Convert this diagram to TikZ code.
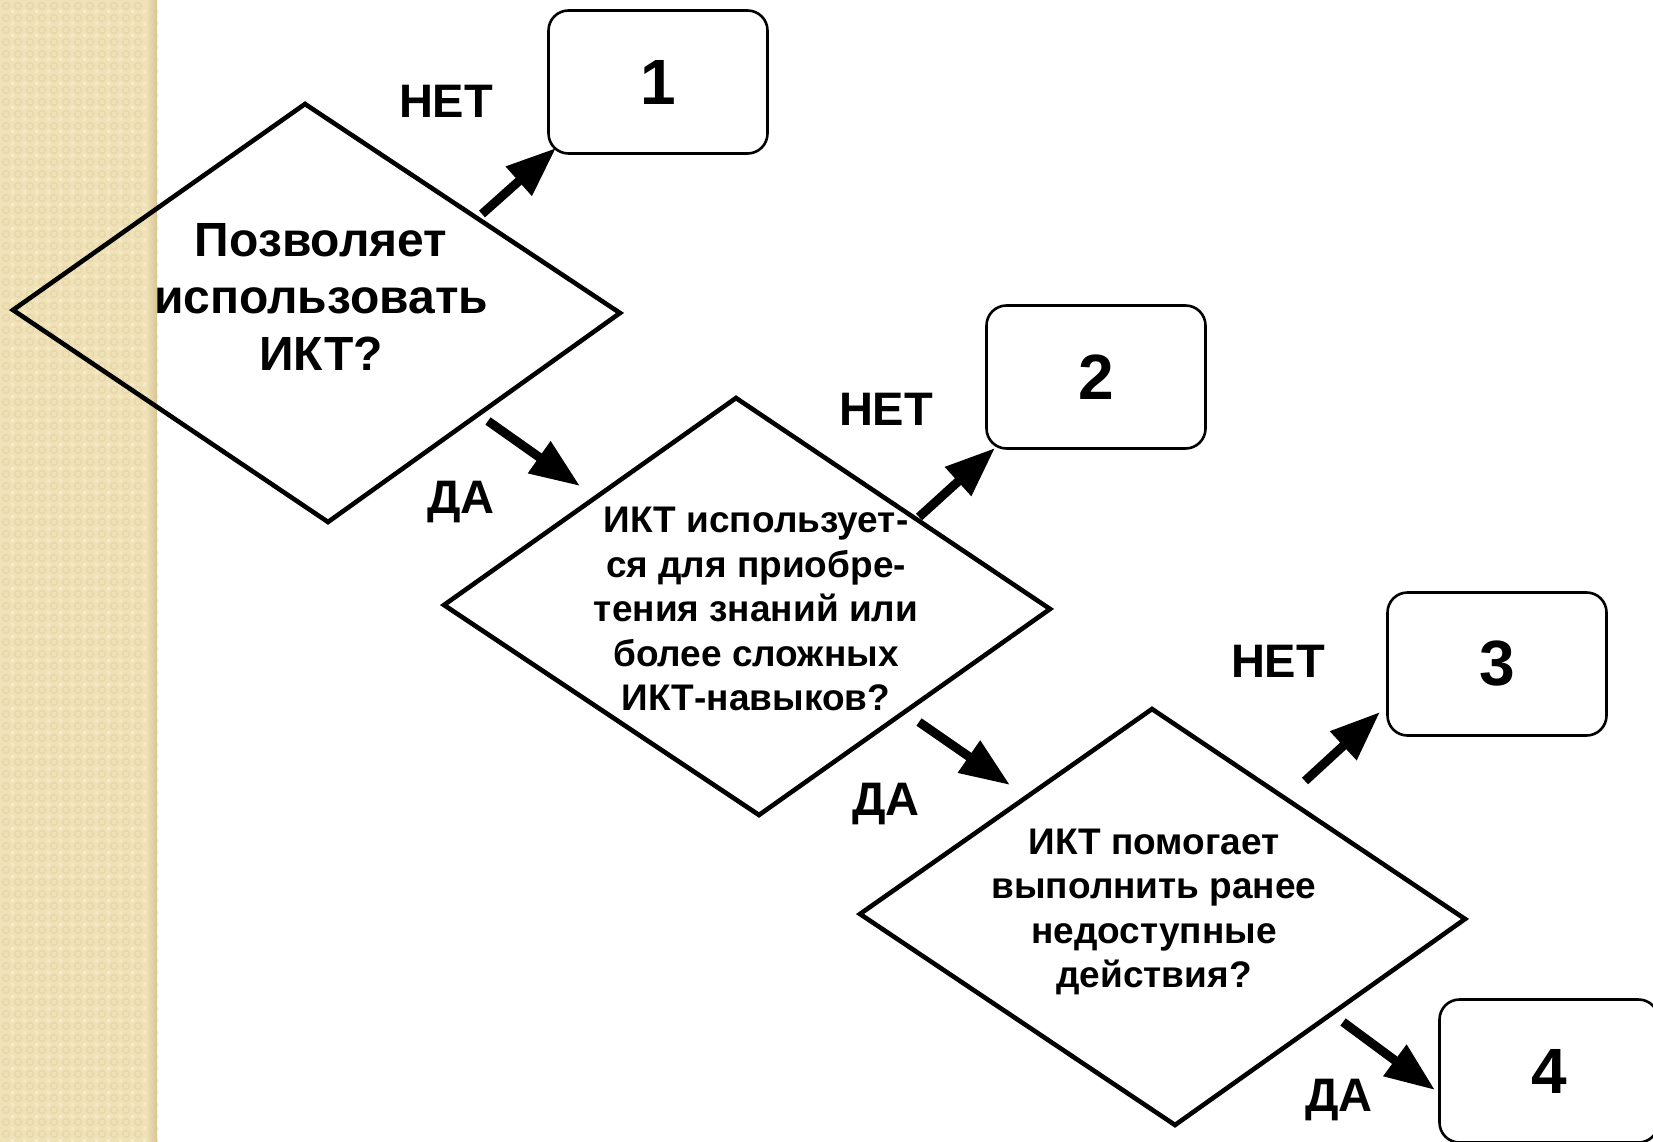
\documentclass[tikz,border=0pt]{standalone}
\usepackage{fontspec}
\setmainfont{Liberation Sans}
\usetikzlibrary{arrows.meta}

\definecolor{bandbase}{RGB}{240,226,184}
\definecolor{bandmotif}{RGB}{231,215,168}
\definecolor{bandlight}{RGB}{246,235,200}
\definecolor{bandshade}{RGB}{214,197,148}

\tikzset{
  decision/.style={draw=black, line width=4.6pt, line join=miter},
  qtext/.style={align=center, font=\bfseries\fontsize{48}{57}\selectfont, inner sep=0pt},
  qsmall/.style={align=center, font=\bfseries\fontsize{37}{44.5}\selectfont, inner sep=0pt},
  outcome/.style={draw=black, line width=2.6pt, rounded corners=20pt,
    minimum width=219pt, minimum height=143pt, inner sep=0pt,
    font=\bfseries\fontsize{64}{70}\selectfont},
  answer/.style={font=\bfseries\fontsize{47}{52}\selectfont, inner sep=0pt},
  flow/.style={line width=9pt, -{Triangle[length=50pt, width=37pt]}}
}

\begin{document}
\begin{tikzpicture}[x=1pt, y=-1pt]
\useasboundingbox (0,0) rectangle (1653,1142);
\clip (0,0) rectangle (1653,1142);
\fill[white] (0,0) rectangle (1653,1142);

% textured side band
\fill[bandbase] (0,0) rectangle (157,1142);
\foreach \i in {0,...,12}{
  \foreach \j in {0,...,95}{
    \pgfmathsetmacro{\cx}{6+12*\i}
    \pgfmathsetmacro{\cy}{6+12*\j}
    \draw[bandmotif, line width=1.3pt] (\cx,\cy) circle[radius=3.5pt];
    \fill[bandlight] (\cx+4.5,\cy+4.5) rectangle (\cx+7.5,\cy+7.5);
  }
}
\shade[left color=bandbase, right color=bandshade] (146,0) rectangle (157,1142);

% decision shapes
\coordinate (d1t) at (305,104);  \coordinate (d1r) at (620,313);
\coordinate (d1b) at (328,522);  \coordinate (d1l) at (13,310);
\coordinate (d2t) at (736,398);  \coordinate (d2r) at (1050,609);
\coordinate (d2b) at (759,815);  \coordinate (d2l) at (444,605);
\coordinate (d3t) at (1152,709); \coordinate (d3r) at (1465,919);
\coordinate (d3b) at (1175,1125);\coordinate (d3l) at (860,914);

\draw[decision] (d1t) -- (d1r) -- (d1b) -- (d1l) -- cycle;
\draw[decision] (d2t) -- (d2r) -- (d2b) -- (d2l) -- cycle;
\draw[decision] (d3t) -- (d3r) -- (d3b) -- (d3l) -- cycle;

\node[qtext] (q1) at (321,297) {Позволяет\\использовать\\ИКТ?};
\node[qsmall] (q2) at (756,609) {ИКТ использует-\\ся для приобре-\\тения знаний или\\более сложных\\ИКТ-навыков?};
\node[qsmall] (q3) at (1154,912) {ИКТ помогает\\выполнить ранее\\недоступные\\действия?};

% outcome boxes
\node[outcome] (r1) at (658,82)   {1};
\node[outcome] (r2) at (1096,377) {2};
\node[outcome] (r3) at (1497,664) {3};
\node[outcome] (r4) at (1549,1071) {4};

% answer labels
\node[answer] (n1) at (446,101)  {НЕТ};
\node[answer] (y1) at (461,502)  {ДА};
\node[answer] (n2) at (886,409)  {НЕТ};
\node[answer] (y2) at (886,804)  {ДА};
\node[answer] (n3) at (1278,661) {НЕТ};
\node[answer] (y3) at (1339,1100) {ДА};

% connector end points
\coordinate (a1s) at (482,214);  \coordinate (a1e) at (556,148);
\coordinate (b1s) at (488,421);  \coordinate (b1e) at (580,486);
\coordinate (a2s) at (919,517);  \coordinate (a2e) at (995,448);
\coordinate (b2s) at (919,722);  \coordinate (b2e) at (1010,785);
\coordinate (a3s) at (1305,781); \coordinate (a3e) at (1380,712);
\coordinate (b3s) at (1343,1022);\coordinate (b3e) at (1435,1090);

\draw[flow] (a1s) -- (a1e);
\draw[flow] (b1s) -- (b1e);
\draw[flow] (a2s) -- (a2e);
\draw[flow] (b2s) -- (b2e);
\draw[flow] (a3s) -- (a3e);
\draw[flow] (b3s) -- (b3e);
\end{tikzpicture}
\end{document}
